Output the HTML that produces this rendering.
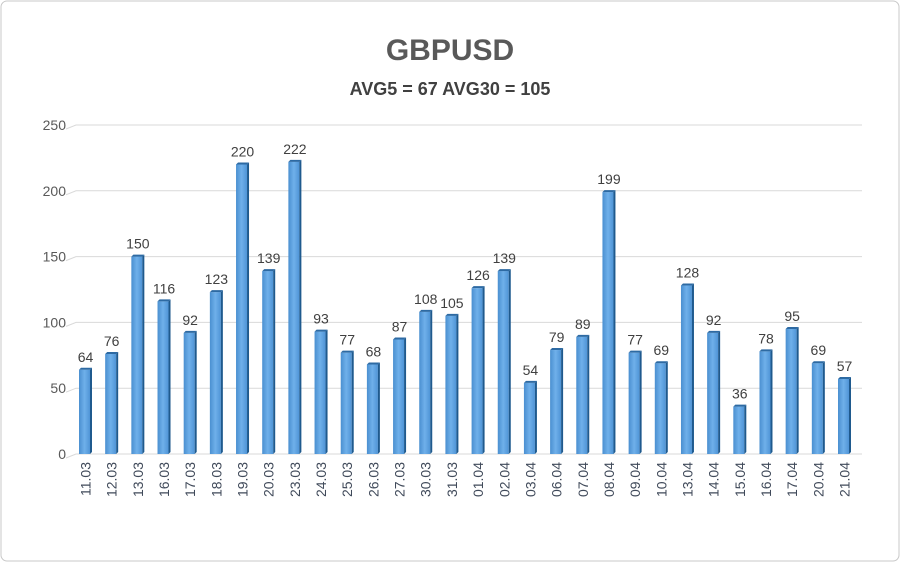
<!DOCTYPE html>
<html><head><meta charset="utf-8"><style>
body{margin:0;background:#fff}
svg{display:block;font-family:"Liberation Sans",sans-serif}
</style></head><body>
<svg id="c" width="900" height="562">
<defs>
<linearGradient id="g" x1="0" x2="1">
<stop offset="0" stop-color="#4a8fd0"/><stop offset="0.5" stop-color="#6fb0ea"/><stop offset="1" stop-color="#4f94d6"/>
</linearGradient>
</defs>
<rect x="1" y="1" width="898" height="560" rx="6" fill="#fff" stroke="#c8c8c8"/>
<text x="450" y="60" text-anchor="middle" font-size="30" font-weight="bold" fill="#595959">GBPUSD</text>
<text x="450" y="95" text-anchor="middle" font-size="18" font-weight="bold" fill="#404040">AVG5 = 67 AVG30 = 105</text>
<g id="grid"></g><g id="bars"></g><g id="labels"></g>
</svg>
<script>
const categories=["11.03","12.03","13.03","16.03","17.03","18.03","19.03","20.03","23.03","24.03","25.03","26.03","27.03","30.03","31.03","01.04","02.04","03.04","06.04","07.04","08.04","09.04","10.04","13.04","14.04","15.04","16.04","17.04","20.04","21.04"];
const values=[64,76,150,116,92,123,220,139,222,93,77,68,87,108,105,126,139,54,79,89,199,77,69,128,92,36,78,95,69,57];
const yTicks=[0,50,100,150,200,250];
const NS="http://www.w3.org/2000/svg";
const y0=454,yTop=125,yMax=250,x0=72,x1=862;
function y(v){return y0-(v/yMax)*(y0-yTop);}
function xc(i){return 85.5+i*(844.5-85.5)/(categories.length-1);}
function mk(t,a,p){const e=document.createElementNS(NS,t);for(const k in a)e.setAttribute(k,a[k]);p.appendChild(e);return e;}
const grid=document.getElementById('grid'),bars=document.getElementById('bars'),labels=document.getElementById('labels');
yTicks.forEach(t=>{
 const l=mk('polyline',{points:`${x0-6},${y(t)+4} ${x0+4},${y(t)} ${x1},${y(t)}`,fill:'none',stroke:'#d9d9d9','stroke-width':1},grid);
 
 
 const tx=mk('text',{x:66,y:y(t)+5,'text-anchor':'end','font-size':14,fill:'#595959'},grid);
 tx.textContent=t;
 
 
});
categories.forEach((c,i)=>{
 const v=values[i],cx=xc(i),top=y(v);
 const g=mk('g',{},bars);
 
 
 mk('rect',{x:cx-6.5,y:top,width:11,height:y0-top,fill:'url(#g)'},g);
 mk('polygon',{points:`${cx+4.5},${top} ${cx+6.5},${top-2} ${cx+6.5},${y0-2} ${cx+4.5},${y0}`,fill:'#1f5a8e'},g);
 mk('polygon',{points:`${cx-6.5},${top} ${cx-4.5},${top-2} ${cx+6.5},${top-2} ${cx+4.5},${top}`,fill:'#2d6aa3'},g);
 const vt=mk('text',{x:cx,y:top-8,'text-anchor':'middle','font-size':14,fill:'#404040'},labels);
 vt.textContent=v;
 
 
 const ct=mk('text',{x:0,y:0,'text-anchor':'end','font-size':14,fill:'#404a5a',transform:`translate(${cx+5},462) rotate(-90)`},labels);
 ct.textContent=c;
 
 
});
</script>
</body></html>
